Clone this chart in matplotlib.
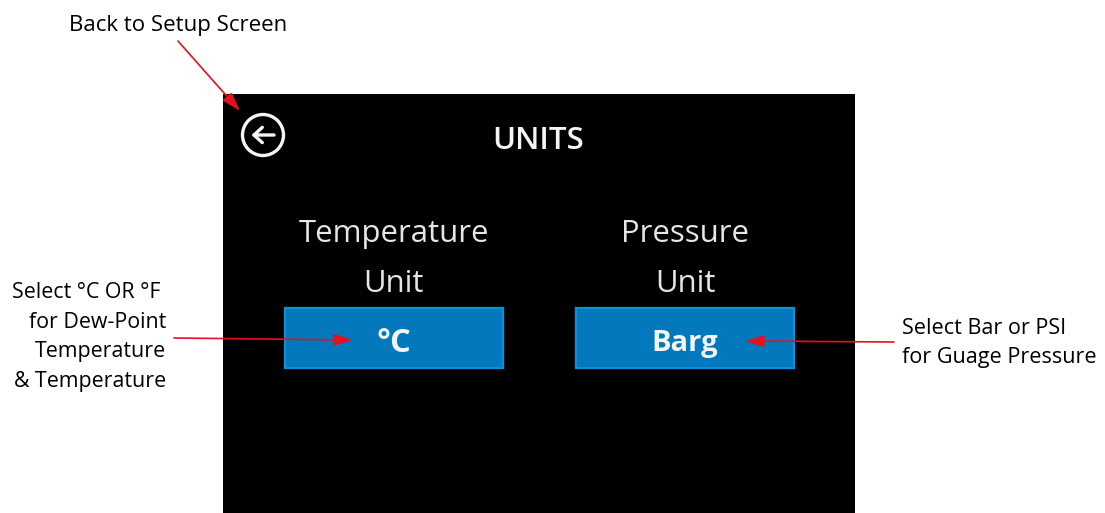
import matplotlib
matplotlib.use("Agg")
import matplotlib.pyplot as plt
from matplotlib.patches import Rectangle, Circle

title = "UNITS"
top_note = "Back to Setup Screen"
col_labels = [["Temperature", "Unit"], ["Pressure", "Unit"]]
button_labels = ["°C", "Barg"]
left_note = ["Select °C OR °F", "for Dew-Point", "Temperature", "& Temperature"]
right_note = ["Select Bar or PSI", "for Guage Pressure"]

W, H = 1105, 513
FONT = "Open Sans"
RED = "#e8101c"
plt.rcParams["font.family"] = [FONT, "DejaVu Sans"]

fig = plt.figure(figsize=(W / 100, H / 100), dpi=100)
ax = fig.add_axes([0, 0, 1, 1])
ax.set_xlim(0, W)
ax.set_ylim(H, 0)
ax.axis("off")

ax.add_patch(Rectangle((223, 94), 632, 419, fc="black", ec="none", zorder=1))

# back icon
ax.add_patch(Circle((263, 135), 20.5, fc="none", ec="#f4f4f4", lw=2.4, zorder=2))
ax.annotate("", xy=(251.5, 135), xytext=(274, 135), zorder=3,
            arrowprops=dict(arrowstyle="->,head_length=0.6,head_width=0.55",
                            color="#f4f4f4", lw=2.4, shrinkA=0, shrinkB=0))

ax.text(538, 141, title, color="#f4f4f4", fontsize=22.4, fontweight="semibold",
        ha="center", va="center", zorder=3)

centers = [394, 685]
for cx, lines, btn, size in zip(centers, col_labels, button_labels, [23.5, 21]):
    ax.text(cx, 234, lines[0], color="#e6e6e6", fontsize=22.4, ha="center", va="center", zorder=3)
    ax.text(cx, 284, lines[1], color="#e6e6e6", fontsize=22.4, ha="center", va="center", zorder=3)
    ax.add_patch(Rectangle((cx - 109, 307.5), 218, 60, fc="#0378bd", ec="#0693dc",
                           lw=1.6, zorder=2))
    ax.text(cx, 344, btn, color="#f4f4f4", fontsize=size, fontweight="bold",
            ha="center", va="center", zorder=3)

note = dict(color="black", zorder=4)
ax.text(69, 25.5, top_note, ha="left", va="center", fontsize=16, **note)
for y, x, s in zip([292, 322, 352, 382], [161, 166, 166, 166], left_note):
    ax.text(x, y, s, ha="right", va="center", fontsize=15.4, **note)
for y, s in zip([329, 358], right_note):
    ax.text(902, y, s, ha="left", va="center", fontsize=15.6, **note)

arrow = dict(arrowstyle="-|>,head_length=1.15,head_width=0.36", color=RED, lw=1.2,
             shrinkA=0, shrinkB=0)
for tail, head in [((178, 41), (240, 111)), ((174, 338), (353, 340)), ((894, 342), (745, 341))]:
    ax.annotate("", xy=head, xytext=tail, arrowprops=arrow, zorder=5)

fig.savefig("out.png", dpi=100)
